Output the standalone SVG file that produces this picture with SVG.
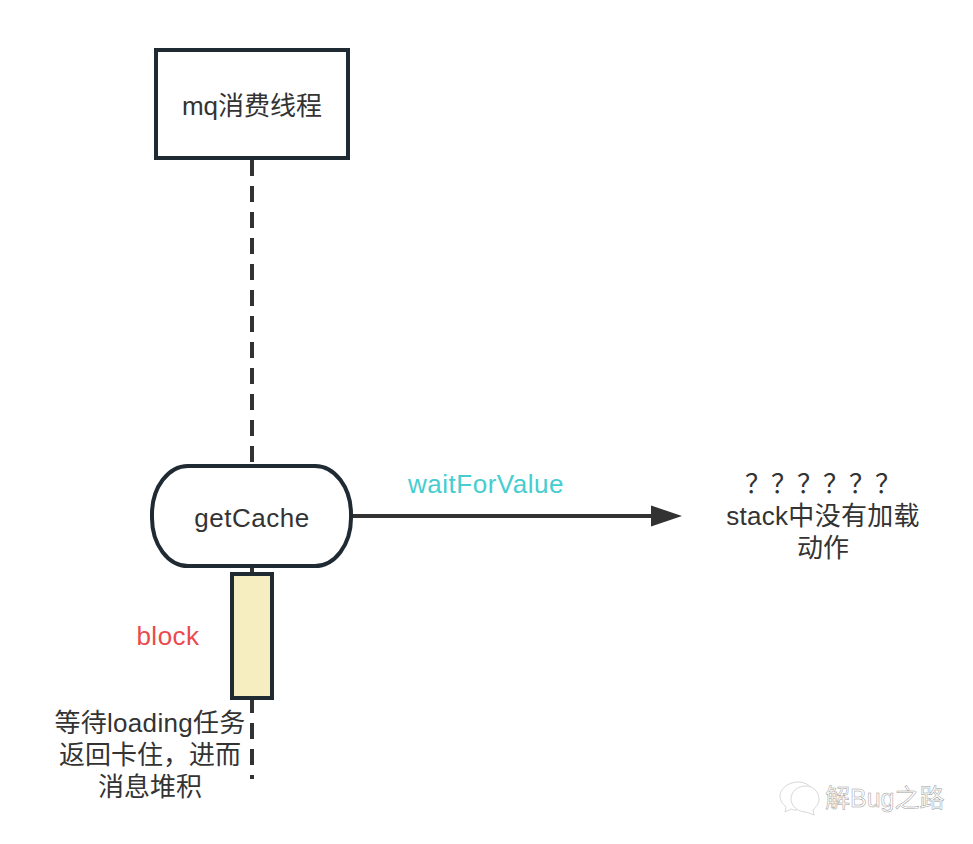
<svg xmlns="http://www.w3.org/2000/svg" width="973" height="844" viewBox="0 0 973 844">
<style>
text{font-family:"Liberation Sans","Noto Sans CJK SC",sans-serif;font-size:26px;fill:#333;text-anchor:middle}
.l{letter-spacing:.5px}
.m{letter-spacing:.3px}
.n{fill:#fff;stroke:#1f2a33;stroke-width:4}
.c{fill:none;stroke:#323232;stroke-width:4}
.d{stroke-dasharray:16 10}
text.wm{font-size:25px;fill:#fff;stroke:#9a9a9a;stroke-width:.5;text-anchor:start}
.ic{fill:#fff;stroke:#d8d8d8;stroke-width:1}
</style>
<rect width="973" height="844" fill="#fff"/>
<g id="connectors">
<path class="c d" d="M252 160V464"/>
<path class="c" d="M252 568V572"/>
<path class="c d" d="M252 697V779"/>
<path class="c" d="M353 516H654"/>
<path d="M651 505.500L682 516L651 526.500Z" fill="#323232"/>
</g>
<g id="mq"><rect class="n" x="156" y="50" width="192" height="108"/><text x="252" y="115">mq消费线程</text></g>
<g id="getCache"><rect class="n" x="152" y="466" width="199" height="100" rx="36" ry="48"/><text class="l" x="252" y="527">getCache</text></g>
<g id="block"><rect class="n" x="232" y="574" width="40" height="124" style="fill:#f6eec0"/></g>
<g id="labels">
<text class="l" x="486" y="493" style="fill:#45cdd0">waitForValue</text>
<text class="l" x="168" y="645" style="fill:#ea4b4b">block</text>
<text class="m" x="150" y="732">等待loading任务</text>
<text x="150" y="764">返回卡住，进而</text>
<text x="150" y="796">消息堆积</text>
<text x="823" y="493">？？？？？？</text>
<text class="m" x="823" y="525">stack中没有加载</text>
<text x="823" y="557">动作</text>
</g>
<g id="watermark">
<path class="ic" d="M798 782c-10 0-18 7-18 14c0 5 3 8 6 11l-1 5l6-3c2 1 4 1 6 1c6-9 12-14 18-16c-2-7-9-12-17-12Z"/>
<path class="ic" d="M806 786c-9 0-15 6-15 13c0 7 7 13 15 13l8 3l-1-5c3-3 6-6 6-11c0-7-6-13-13-13Z"/>
<text class="wm" x="825" y="807">解Bug之路</text>
</g>
</svg>
